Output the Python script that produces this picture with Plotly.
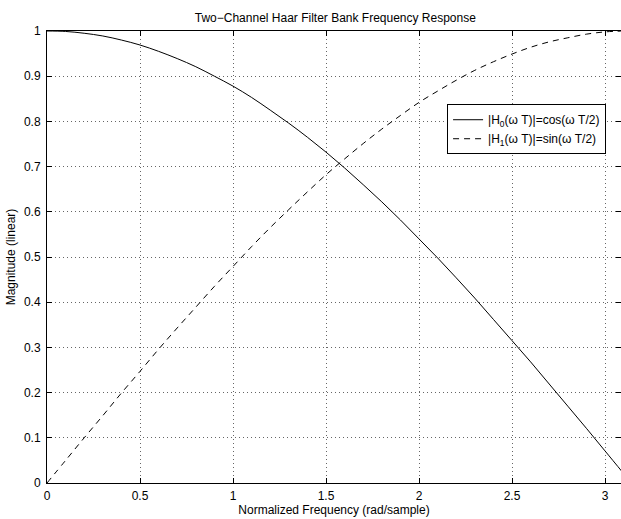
import plotly.graph_objects as go

freq = [0.0, 0.1, 0.2, 0.3, 0.4, 0.5, 0.6, 0.7, 0.8, 0.9, 1.0, 1.1, 1.2, 1.3, 1.4, 1.5,
        1.6, 1.7, 1.8, 1.9, 2.0, 2.1, 2.2, 2.3, 2.4, 2.5, 2.6, 2.7, 2.8, 2.9, 3.0, 3.1]
h0 = [1.000, 0.999, 0.995, 0.989, 0.980, 0.969, 0.955, 0.939, 0.921, 0.900, 0.878, 0.853,
      0.825, 0.796, 0.765, 0.732, 0.697, 0.660, 0.622, 0.582, 0.540, 0.498, 0.454, 0.409,
      0.362, 0.315, 0.268, 0.219, 0.170, 0.121, 0.071, 0.021]
h1 = [0.000, 0.050, 0.100, 0.149, 0.199, 0.247, 0.296, 0.343, 0.389, 0.435, 0.479, 0.523,
      0.565, 0.605, 0.644, 0.682, 0.717, 0.751, 0.783, 0.813, 0.842, 0.867, 0.891, 0.913,
      0.932, 0.949, 0.964, 0.976, 0.985, 0.993, 0.998, 1.000]
xticks = [0, 0.5, 1, 1.5, 2, 2.5, 3]
yticks = [0, 0.1, 0.2, 0.3, 0.4, 0.5, 0.6, 0.7, 0.8, 0.9, 1]

FONT = "Liberation Sans, Arial, Helvetica, sans-serif"

fig = go.Figure()
fig.add_trace(go.Scatter(x=freq, y=h0, mode="lines", line=dict(color="black", width=1, shape="spline"),
                         name="|H<sub>0</sub>(ω T)|=cos(ω T/2)"))
fig.add_trace(go.Scatter(x=freq, y=h1, mode="lines", line=dict(color="black", width=1, dash="6px,5px", shape="spline"),
                         name="|H<sub>1</sub>(ω T)|=sin(ω T/2)"))

axis_common = dict(showline=True, linecolor="black", linewidth=1, mirror="ticks",
                   ticks="inside", ticklen=5, tickcolor="black",
                   showgrid=True, gridcolor="#666", griddash="1px,3px", gridwidth=1,
                   zeroline=False, tickfont=dict(size=12, color="black", family=FONT))

fig.update_layout(
    width=621, height=519,
    margin=dict(l=47, r=0, t=31, b=36),
    paper_bgcolor="white", plot_bgcolor="white",
    font=dict(family=FONT, size=12, color="black"),
    title=dict(text="Two−Channel Haar Filter Bank Frequency Response", x=0.540,
               xanchor="center", y=1 - 18 / 519, yanchor="middle", font=dict(size=12)),
    xaxis=dict(range=[0, 3.086], tickvals=xticks, ticktext=[str(t) for t in xticks],
               ticklabelstandoff=2,
               title=dict(text="Normalized Frequency (rad/sample)", standoff=2, font=dict(size=12)),
               **axis_common),
    yaxis=dict(range=[0, 1], tickvals=yticks, ticktext=[("%g" % t) for t in yticks],
               ticklabelstandoff=3,
               title=dict(text="Magnitude (linear)", standoff=5, font=dict(size=12)),
               **axis_common),
    legend=dict(x=0.697, y=0.838, xanchor="left", yanchor="top", bgcolor="white",
                bordercolor="black", borderwidth=1, font=dict(size=12),
                tracegroupgap=0, itemwidth=30),
    showlegend=True,
)

fig.write_html("out.html", config={"displayModeBar": False},
               post_script="document.body.style.margin='0';document.body.style.overflow='hidden';")
